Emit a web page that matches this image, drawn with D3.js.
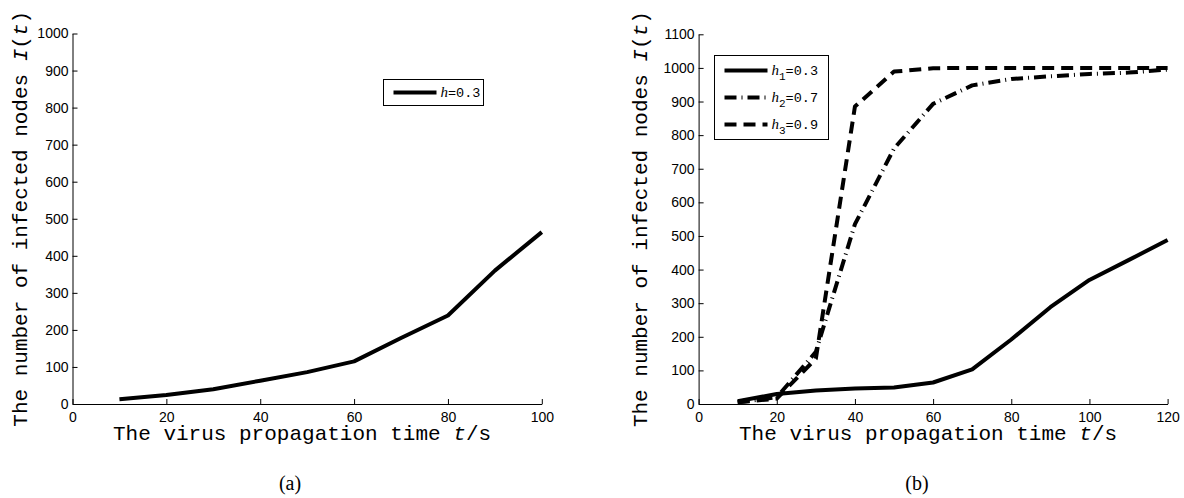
<!DOCTYPE html>
<html>
<head>
<meta charset="utf-8">
<script src="https://d3js.org/d3.v7.min.js"></script>
<style>
  body { margin: 0; background: #fff; }
  .tick text { font-family: Arial, "Liberation Sans", sans-serif; font-size: 14px; fill: #000; }
  .lab { font-family: "Courier New", "Liberation Mono", monospace; font-size: 21px; fill: #000; }
  .leg { font-family: "Courier New", "Liberation Mono", monospace; font-size: 13.5px; fill: #000; }
  .cap { font-family: "Times New Roman", "Liberation Serif", serif; font-size: 20px; fill: #000; }
</style>
</head>
<body>
<svg id="fig" width="1184" height="498"></svg>
<script>
  // (a) one curve, h = 0.3
  var timeA = [10, 20, 30, 40, 50, 60, 70, 80, 90, 100];
  var infA = [13, 24, 40, 63, 86, 115, 178, 239, 360, 464];

  // (b) three curves
  var timeB = [10, 20, 30, 40, 50, 60, 70, 80, 90, 100, 110, 120];
  var infH1 = [8, 30, 40, 46, 49, 64, 103, 192, 288, 369, 428, 488];
  var infH2 = [5, 20, 155, 535, 760, 893, 948, 967, 975, 982, 986, 995];
  var infH3 = [5, 16, 135, 885, 989, 999, 1000, 1000, 1000, 1000, 1000, 1000];

  var ticksA = [0, 20, 40, 60, 80, 100];
  var ticksB = [0, 20, 40, 60, 80, 100, 120];

  var svg = d3.select("#fig");

  var styles = {
    solid: null,
    dashdot: "12,5,1,5",
    dashed: "12,7"
  };

  function panel(opt) {
    var x = d3.scaleLinear().domain([0, opt.xmax]).range(opt.xr);
    var y = d3.scaleLinear().domain([0, opt.ymax]).range(opt.yr);
    var g = svg.append("g");

    g.append("g")
      .attr("transform", "translate(0," + opt.yr[0] + ")")
      .call(d3.axisBottom(x).tickValues(opt.xticks).tickFormat(d3.format("d"))
        .tickSizeInner(-5).tickSizeOuter(0).tickPadding(8))
      .call(function(a) { a.selectAll("path,line").attr("stroke", "#000"); });

    g.append("g")
      .attr("transform", "translate(" + opt.xr[0] + ",0)")
      .call(d3.axisLeft(y).tickValues(d3.range(0, opt.ymax + 1, 100)).tickFormat(d3.format("d"))
        .tickSizeInner(-5).tickSizeOuter(0).tickPadding(4))
      .call(function(a) { a.selectAll("path,line").attr("stroke", "#000"); });

    var line = d3.line()
      .x(function(d) { return x(d[0]); })
      .y(function(d) { return y(d[1]); });

    opt.series.forEach(function(s) {
      g.append("path")
        .datum(opt.time.map(function(t, i) { return [t, s.values[i]]; }))
        .attr("d", line)
        .attr("fill", "none")
        .attr("stroke", "#000")
        .attr("stroke-width", 4)
        .attr("stroke-linejoin", "round")
        .attr("stroke-dasharray", styles[s.style]);
    });

    // x label
    var xl = g.append("text").attr("class", "lab")
      .attr("x", opt.xlabX).attr("y", 440);
    xl.append("tspan").text("The virus propagation time ");
    xl.append("tspan").attr("font-style", "italic").text("t");
    xl.append("tspan").text("/s");

    // y label
    var yc = (opt.yr[0] + opt.yr[1]) / 2;
    var yl = g.append("text").attr("class", "lab")
      .attr("text-anchor", "middle")
      .attr("transform", "translate(" + opt.ylabX + "," + yc + ") rotate(-90)");
    yl.append("tspan").text("The number of infected nodes ");
    yl.append("tspan").attr("font-style", "italic").text("I");
    yl.append("tspan").text("(");
    yl.append("tspan").attr("font-style", "italic").text("t");
    yl.append("tspan").text(")");

    // legend
    var lg = g.append("g");
    lg.append("rect")
      .attr("x", opt.legend.x).attr("y", opt.legend.y)
      .attr("width", opt.legend.w).attr("height", opt.legend.h)
      .attr("fill", "#fff").attr("stroke", "#000").attr("stroke-width", 1);
    opt.series.forEach(function(s, i) {
      var ry = opt.legend.y + opt.legend.first + i * 27;
      lg.append("line")
        .attr("x1", opt.legend.x + 10).attr("x2", opt.legend.x + 53)
        .attr("y1", ry).attr("y2", ry)
        .attr("stroke", "#000").attr("stroke-width", 4)
        .attr("stroke-dasharray", styles[s.style]);
      var t = lg.append("text").attr("class", "leg")
        .attr("x", opt.legend.x + 57).attr("y", ry + 4.5);
      t.append("tspan").attr("font-family", "'Times New Roman','Liberation Serif',serif")
        .attr("font-style", "italic").attr("font-size", 15).text("h");
      if (s.sub) {
        t.append("tspan").attr("dy", 5).attr("font-size", 11).text(s.sub);
        t.append("tspan").attr("dy", -5).text("=" + s.h);
      } else {
        t.append("tspan").text("=" + s.h);
      }
    });

    // caption
    g.append("text").attr("class", "cap")
      .attr("x", opt.capX).attr("y", 490)
      .attr("text-anchor", "middle")
      .text(opt.cap);
  }

  panel({
    xmax: 100, ymax: 1000,
    xr: [72.5, 541.8], yr: [404, 33.5],
    xticks: ticksA,
    time: timeA,
    series: [{ values: infA, style: "solid", h: "0.3" }],
    xlabX: 113, ylabX: 27,
    legend: { x: 383.5, y: 79.5, w: 100, h: 26, first: 13 },
    capX: 290, cap: "(a)"
  });

  panel({
    xmax: 120, ymax: 1100,
    xr: [698.6, 1167.6], yr: [404, 34.3],
    xticks: ticksB,
    time: timeB,
    series: [
      { values: infH1, style: "solid", h: "0.3", sub: "1" },
      { values: infH2, style: "dashdot", h: "0.7", sub: "2" },
      { values: infH3, style: "dashed", h: "0.9", sub: "3" }
    ],
    xlabX: 739, ylabX: 647,
    legend: { x: 714.5, y: 55.5, w: 114, h: 84, first: 15 },
    capX: 917, cap: "(b)"
  });
</script>
</body>
</html>
